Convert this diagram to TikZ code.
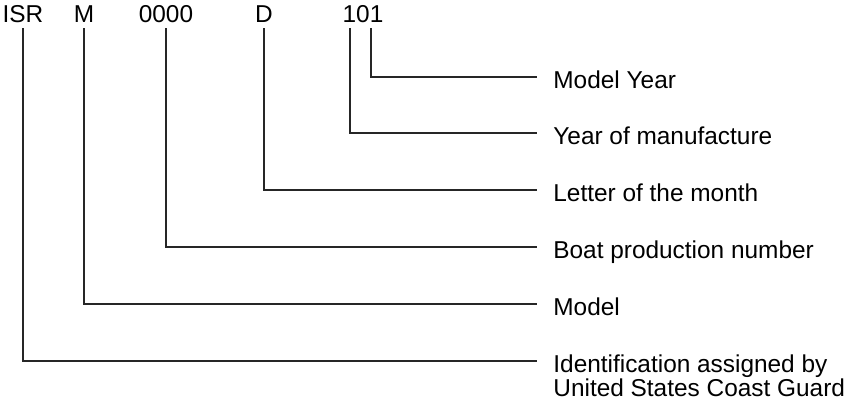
\documentclass[tikz,border=0pt]{standalone}
\usepackage{fontspec}
\setmainfont{Liberation Sans}
\usetikzlibrary{positioning}
\tikzset{
  codenode/.style={
    font=\fontsize{12.2}{14}\selectfont, anchor=base,
    inner xsep=0pt, inner ysep=3pt, text depth=0pt
  },
  desclabel/.style={
    font=\fontsize{12.2}{12}\selectfont, anchor=base west, align=left,
    inner ysep=0pt, inner xsep=8pt
  },
  leader/.style={
    line width=0.8pt, color=black!85
  },
}
\begin{document}
\begin{tikzpicture}[x=0.5pt, y=-0.5pt]
  \useasboundingbox (0,0) rectangle (846,412);
  \node[codenode] (isr) at (23,22) {ISR};
  \node[codenode] (mdl) at (84,22) {M};
  \node[codenode] (num) at (166,22) {0000};
  \node[codenode] (mon) at (264,22) {D};
  \node[codenode] (yr) at (363,22) {101};
  \node[desclabel] (myear) at (537,88) {Model Year};
  \node[desclabel] (mfg) at (537,144) {Year of manufacture};
  \node[desclabel] (month) at (537,201) {Letter of the month};
  \node[desclabel] (prod) at (537,258) {Boat production number};
  \node[desclabel] (model) at (537,315) {Model};
  % base of a two-line node sits on its last line
  \node[desclabel] (uscg) at (537,396) {Identification assigned by\\United States Coast Guard};
  \draw[leader] ([xshift=4pt]yr.south) |- ([yshift=5.5pt]myear.base west);
  \draw[leader] ([xshift=-6.5pt]yr.south) |- ([yshift=5.5pt]mfg.base west);
  \draw[leader] (mon.south) |- ([yshift=5.5pt]month.base west);
  \draw[leader] (num.south) |- ([yshift=5.5pt]prod.base west);
  \draw[leader] (mdl.south) |- ([yshift=5.5pt]model.base west);
  \draw[leader] (isr.south) |- ([yshift=17.5pt]uscg.base west);
\end{tikzpicture}
\end{document}
